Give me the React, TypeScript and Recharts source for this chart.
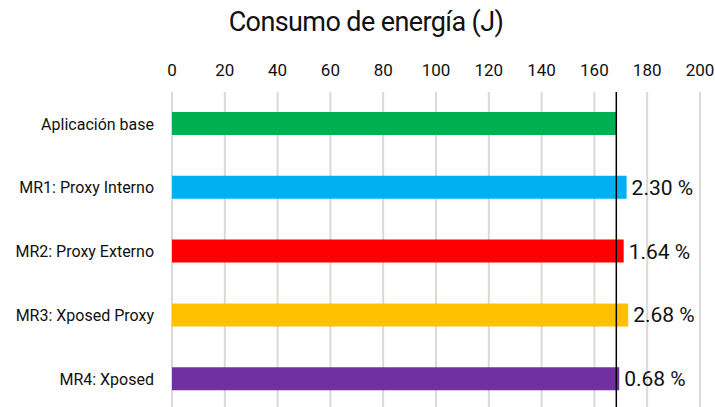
import { Bar, BarChart, CartesianGrid, Cell, LabelList, ReferenceLine, XAxis, YAxis } from "recharts";

const categories = ["Aplicación base", "MR1: Proxy Interno", "MR2: Proxy Externo", "MR3: Xposed Proxy", "MR4: Xposed"];
const energy = [168.3, 172.2, 171.1, 172.8, 169.4];
const increase = ["", "2.30 %", "1.64 %", "2.68 %", "0.68 %"];
const barColors = ["#00b050", "#00b0f0", "#ff0000", "#ffc000", "#7030a0"];
const xTicks = [0, 20, 40, 60, 80, 100, 120, 140, 160, 180, 200];
const baseline = 168.3;

const data = categories.map((name, i) => ({ name, energy: energy[i], pct: increase[i] }));

const font = "Roboto, 'Liberation Sans', sans-serif";

export default function App() {
  return (
    <div style={{ position: "fixed", left: 0, top: 0, width: 715, height: 407, overflow: "hidden", background: "#fff", fontFamily: font }}>
      <div style={{ position: "absolute", top: 6, left: 0, width: 732, textAlign: "center", fontSize: 27, fontWeight: 400, color: "#111", letterSpacing: -0.6 }}>
        Consumo de energía (J)
      </div>
      <BarChart width={715} height={422} data={data} layout="vertical" margin={{ top: 62, right: 15, left: 0, bottom: 11 }} barCategoryGap={0}>
        <CartesianGrid horizontal={false} stroke="#d9d9d9" strokeWidth={2} />
        <XAxis
          type="number"
          orientation="top"
          height={30}
          domain={[0, 200]}
          ticks={xTicks}
          axisLine={false}
          tickLine={false}
          tickSize={0}
          tickMargin={16}
          tick={{ fontSize: 17, fill: "#111", fontFamily: font }}
        />
        <YAxis
          type="category"
          dataKey="name"
          width={172}
          axisLine={false}
          tickLine={false}
          tickSize={0}
          tickMargin={18}
          tick={{ fontSize: 16, fill: "#111", fontFamily: font }}
        />
        <Bar dataKey="energy" barSize={23} isAnimationActive={false}>
          {data.map((d, i) => (
            <Cell key={d.name} fill={barColors[i]} />
          ))}
          <LabelList dataKey="pct" position="right" offset={5} style={{ fontSize: 21, fill: "#111", fontFamily: font }} />
        </Bar>
        <ReferenceLine x={baseline} stroke="#000" strokeWidth={1.5} />
      </BarChart>
    </div>
  );
}
